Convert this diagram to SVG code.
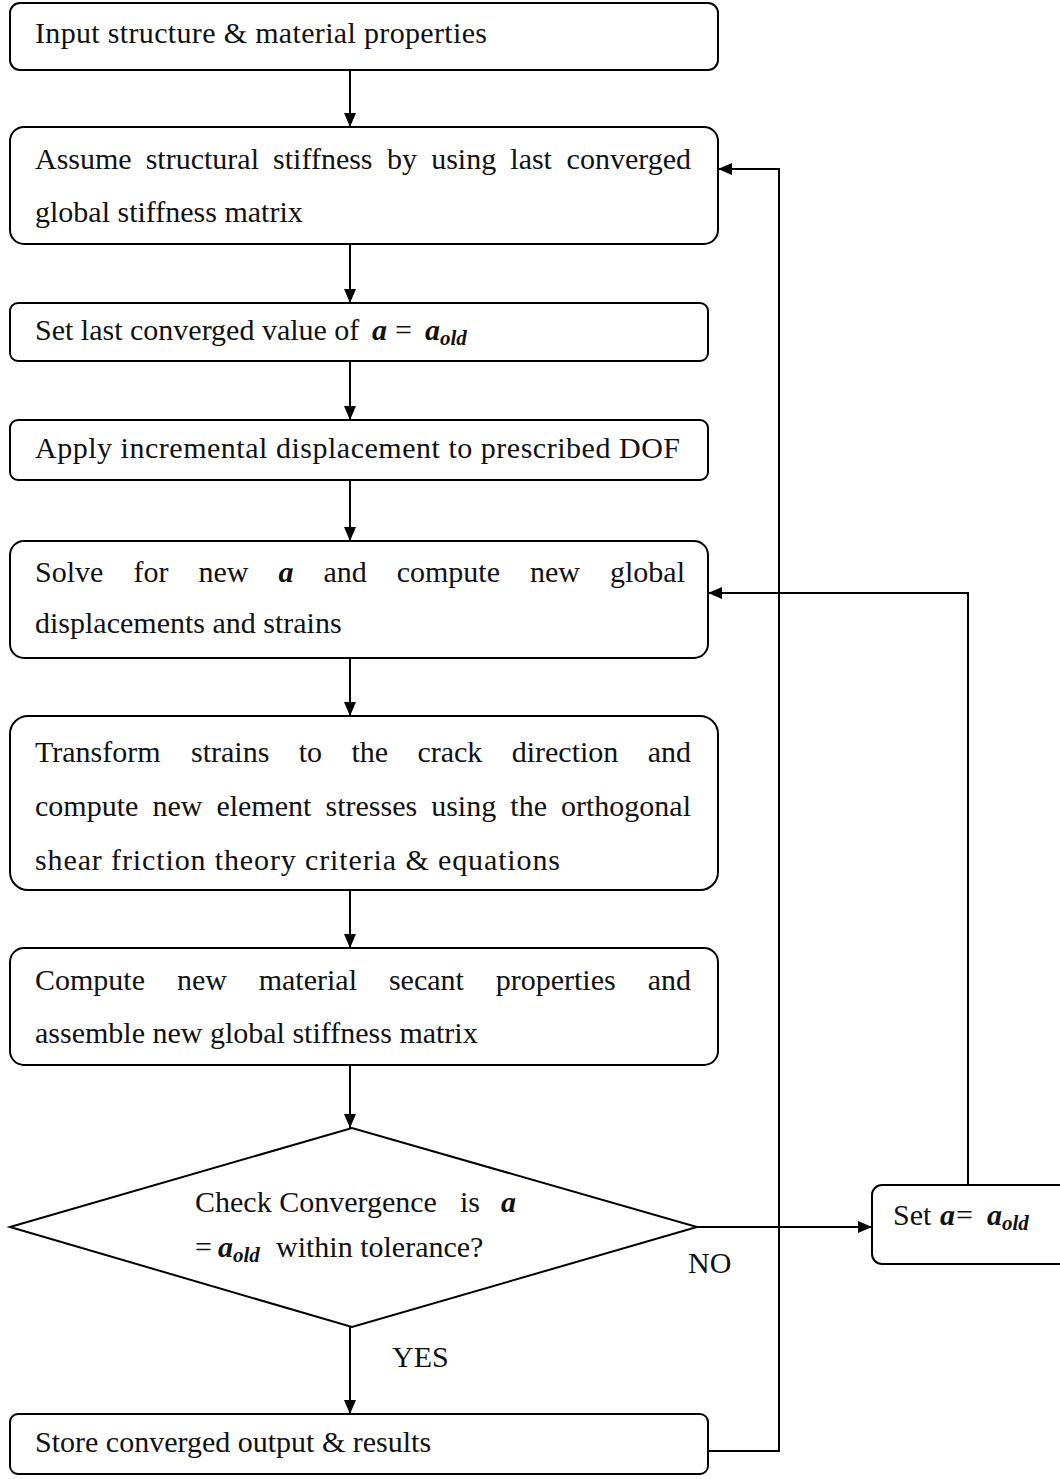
<svg xmlns="http://www.w3.org/2000/svg" width="1060" height="1479" viewBox="0 0 1060 1479">
<defs>
<marker id="ah" markerWidth="14" markerHeight="12" refX="14" refY="6" orient="auto" markerUnits="userSpaceOnUse">
<path d="M0,0 L14,6 L0,12 Z" fill="#000"/>
</marker>
<style>
.box{fill:#fff;stroke:#000;stroke-width:2}
.t{font-family:"Liberation Serif","Times New Roman",serif;font-size:30px;fill:#111}
.v{font-weight:bold;font-style:italic}
.s{font-weight:bold;font-style:italic;font-size:21px}
.c{fill:none;stroke:#000;stroke-width:2}
</style>
</defs>
<rect width="1060" height="1479" fill="#fff"/>
<g id="connectors">
<line class="c" x1="350" y1="70" x2="350" y2="127" marker-end="url(#ah)"/>
<line class="c" x1="350" y1="244" x2="350" y2="303" marker-end="url(#ah)"/>
<line class="c" x1="350" y1="361" x2="350" y2="420" marker-end="url(#ah)"/>
<line class="c" x1="350" y1="480" x2="350" y2="541" marker-end="url(#ah)"/>
<line class="c" x1="350" y1="658" x2="350" y2="716" marker-end="url(#ah)"/>
<line class="c" x1="350" y1="890" x2="350" y2="948" marker-end="url(#ah)"/>
<line class="c" x1="350" y1="1065" x2="350" y2="1128" marker-end="url(#ah)"/>
<line class="c" x1="350" y1="1327" x2="350" y2="1414" marker-end="url(#ah)"/>
<line class="c" x1="697" y1="1227" x2="872" y2="1227" marker-end="url(#ah)"/>
<polyline class="c" points="968,1185 968,593 708,593" marker-end="url(#ah)"/>
<polyline class="c" points="708,1451 779,1451 779,169 718,169" marker-end="url(#ah)"/>
<text class="t" x="688" y="1273">NO</text>
<text class="t" x="392" y="1367">YES</text>
</g>
<g id="n1">
<rect class="box" x="10" y="3" width="708" height="67" rx="10"/>
<text class="t" x="35" y="43" textLength="452">Input structure &amp; material properties</text>
</g>
<g id="n2">
<rect class="box" x="10" y="127" width="708" height="117" rx="14"/>
<text class="t" y="169"><tspan x="35">Assume</tspan><tspan x="145.7">structural</tspan><tspan x="273.1">stiffness</tspan><tspan x="387.1">by</tspan><tspan x="431.2">using</tspan><tspan x="510.3">last</tspan><tspan x="691" text-anchor="end">converged</tspan></text>
<text class="t" x="35" y="222">global stiffness matrix</text>
</g>
<g id="n3">
<rect class="box" x="10" y="303" width="698" height="58" rx="8"/>
<text class="t" y="340"><tspan x="35">Set last converged value of</tspan><tspan x="372" class="v">a</tspan><tspan x="395">=</tspan><tspan x="425" class="v">a</tspan><tspan class="s" dy="5">old</tspan></text>
</g>
<g id="n4">
<rect class="box" x="10" y="420" width="698" height="60" rx="8"/>
<text class="t" x="35" y="458" textLength="645">Apply incremental displacement to prescribed DOF</text>
</g>
<g id="n5">
<rect class="box" x="10" y="541" width="698" height="117" rx="14"/>
<text class="t" y="582"><tspan x="35">Solve</tspan><tspan x="133.4">for</tspan><tspan x="198.4">new</tspan><tspan x="278.4" class="v">a</tspan><tspan x="323.4">and</tspan><tspan x="396.7">compute</tspan><tspan x="530">new</tspan><tspan x="685" text-anchor="end">global</tspan></text>
<text class="t" x="35" y="633">displacements and strains</text>
</g>
<g id="n6">
<rect class="box" x="10" y="716" width="708" height="174" rx="18"/>
<text class="t" y="762"><tspan x="35">Transform</tspan><tspan x="191">strains</tspan><tspan x="298.7">to</tspan><tspan x="351.4">the</tspan><tspan x="417.4">crack</tspan><tspan x="511.7">direction</tspan><tspan x="691" text-anchor="end">and</tspan></text>
<text class="t" y="816"><tspan x="35">compute</tspan><tspan x="152.4">new</tspan><tspan x="216.4">element</tspan><tspan x="325.5">stresses</tspan><tspan x="431.2">using</tspan><tspan x="510.3">the</tspan><tspan x="691" text-anchor="end">orthogonal</tspan></text>
<text class="t" x="35" y="870" textLength="525">shear friction theory criteria &amp; equations</text>
</g>
<g id="n7">
<rect class="box" x="10" y="948" width="708" height="117" rx="14"/>
<text class="t" y="990"><tspan x="35">Compute</tspan><tspan x="176.9">new</tspan><tspan x="258.7">material</tspan><tspan x="388.9">secant</tspan><tspan x="495.7">properties</tspan><tspan x="691" text-anchor="end">and</tspan></text>
<text class="t" x="35" y="1043">assemble new global stiffness matrix</text>
</g>
<g id="n8">
<path class="box" d="M10,1227 L352,1128 L697,1227 L352,1327 Z"/>
<text class="t" y="1212"><tspan x="195">Check Convergence</tspan><tspan x="460">is</tspan><tspan x="501" class="v">a</tspan></text>
<text class="t" y="1257"><tspan x="195">=</tspan><tspan x="218" class="v">a</tspan><tspan class="s" dy="5">old</tspan><tspan x="276" dy="-5">within tolerance?</tspan></text>
</g>
<g id="n9">
<rect class="box" x="872" y="1185" width="200" height="79" rx="10"/>
<text class="t" y="1225"><tspan x="893">Set</tspan><tspan x="940" class="v">a</tspan><tspan x="956">=</tspan><tspan x="987" class="v">a</tspan><tspan class="s" dy="5">old</tspan></text>
</g>
<g id="n10">
<rect class="box" x="10" y="1414" width="698" height="60" rx="8"/>
<text class="t" x="35" y="1452">Store converged output &amp; results</text>
</g>
</svg>
